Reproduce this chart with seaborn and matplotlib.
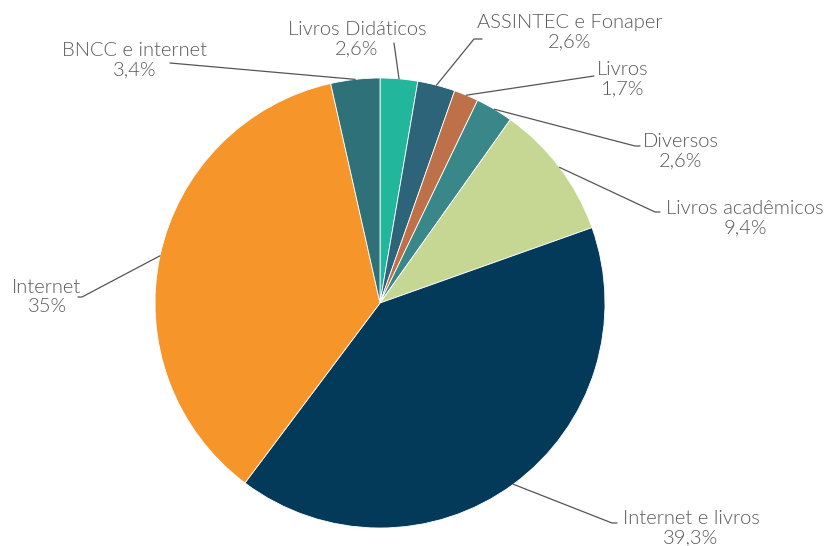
import numpy as np
import matplotlib.pyplot as plt
import seaborn as sns
from matplotlib import font_manager

# data
categories = ["Livros Didáticos", "ASSINTEC e Fonaper", "Livros", "Diversos",
              "Livros acadêmicos", "Internet e livros", "Internet", "BNCC e internet"]
values = [2.6, 2.6, 1.7, 2.6, 9.4, 39.3, 35.0, 3.4]
pct_labels = ["2,6%", "2,6%", "1,7%", "2,6%", "9,4%", "39,3%", "35%", "3,4%"]
colors = ["#22B69C", "#2D6479", "#BE7148", "#3A878A",
          "#C6D693", "#033A59", "#F6962A", "#2E7178"]

# label layout, in pixels (x, y from top) on an 826x546 canvas
text_pos = [(357, 39), (570, 32), (623, 79), (681, 151),
            (745, 218), (691, 528), (47, 297), (135, 60)]
elbows = [[(394, 43)], [(474, 39), (482, 39)], [(594, 76)], [(635, 146), (640, 146)],
          [(655, 212), (660, 212)], [(612, 523), (617, 523)], [(82, 297), (78, 297)],
          [(170, 63)]]

sns.set_theme(style="white")
plt.rcParams["font.family"] = ["Lato", "DejaVu Sans"]
light = [f.fname for f in font_manager.fontManager.ttflist
         if f.fname.endswith("Lato-Light.ttf")]
if light:
    fp = font_manager.FontProperties(fname=light[0], size=14.5)
else:
    fp = font_manager.FontProperties(family=["Lato", "DejaVu Sans"], weight="light", size=14.5)

W, H = 826, 546
cx, cy, R = 380, 303, 225
fig = plt.figure(figsize=(W / 100, H / 100), dpi=100)
ax = fig.add_axes([(cx - R) / W, (H - cy - R) / H, 2 * R / W, 2 * R / H])

wedges, _ = ax.pie(values, colors=colors, startangle=90, counterclock=False,
                   wedgeprops=dict(edgecolor="white", linewidth=0.6))
ax.set_xlim(-1, 1)
ax.set_ylim(-1, 1)
ax.set_aspect("equal")
ax.axis("off")


def to_data(px, py):
    return (px - cx) / R, (cy - py) / R


for w, name, pct, tp, el in zip(wedges, categories, pct_labels, text_pos, elbows):
    mid = np.deg2rad((w.theta1 + w.theta2) / 2)
    pts = [(np.cos(mid), np.sin(mid))] + [to_data(*p) for p in el]
    xs, ys = zip(*pts)
    ax.plot(xs, ys, color="#555555", lw=0.9, clip_on=False)
    tx, ty = to_data(*tp)
    ax.text(tx, ty, name + "\n" + pct, ha="center", va="center", fontproperties=fp,
            color="#585858", linespacing=1.15, clip_on=False)

fig.savefig("out.png", dpi=100, facecolor="white")
